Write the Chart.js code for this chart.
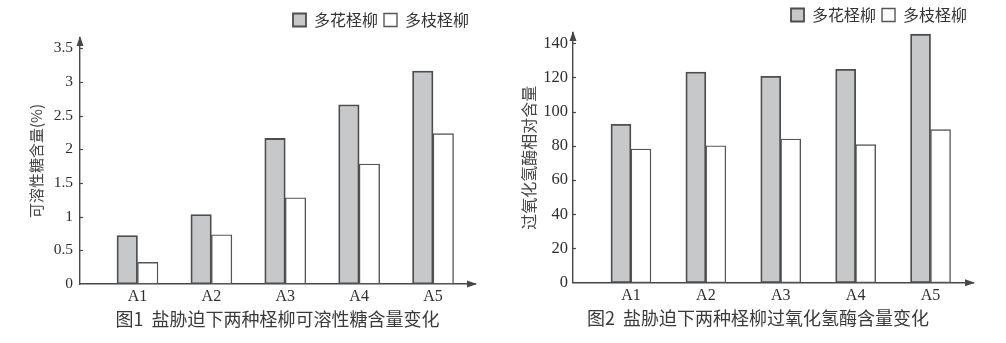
<!DOCTYPE html>
<html>
<head>
<meta charset="utf-8">
<script src="https://cdn.jsdelivr.net/npm/chart.js@4"></script>
<style>
  html, body { margin: 0; padding: 0; background: #ffffff; }
  body { width: 1006px; height: 343px; position: relative; overflow: hidden; }
  .box { position: absolute; top: 0; width: 503px; height: 343px; }
  #boxL { left: 0; }
  #boxR { left: 503px; top: -3px; height: 346px; }
</style>
</head>
<body>
<div id="boxL" class="box"><canvas id="c1" width="503" height="343"></canvas></div>
<div id="boxR" class="box"><canvas id="c2" width="503" height="346"></canvas></div>
<script>
// ---- data ----
const categories = ['A1', 'A2', 'A3', 'A4', 'A5'];
const seriesNames = ['多花柽柳', '多枝柽柳'];
const sugarDuohua = [0.72, 1.03, 2.16, 2.66, 3.16];
const sugarDuozhi = [0.32, 0.73, 1.28, 1.78, 2.23];
const catDuohua = [92.6, 123.2, 120.7, 124.8, 145.3];
const catDuozhi = [78.2, 80.1, 84.0, 80.7, 89.5];
const sugarTicks = [0, 0.5, 1, 1.5, 2, 2.5, 3, 3.5];
const catTicks = [0, 20, 40, 60, 80, 100, 120, 140];
const titleLeft = '图1  盐胁迫下两种柽柳可溶性糖含量变化';
const titleRight = '图2  盐胁迫下两种柽柳过氧化氢酶含量变化';
const yTitleLeft = '可溶性糖含量(%)';
const yTitleRight = '过氧化氢酶相对含量';

const CJK = '"Noto Sans CJK SC", "Noto Sans", sans-serif';
const SERIF = '"Liberation Serif", "DejaVu Serif", serif';
const AXIS = '#474747';

const axisDeco = {
  id: 'axisDeco',
  afterDraw(chart) {
    const ctx = chart.ctx;
    const {left, right, top, bottom} = chart.chartArea;
    const y = chart.scales.y;
    ctx.save();
    ctx.strokeStyle = AXIS;
    ctx.fillStyle = AXIS;
    ctx.lineWidth = 1.2;
    y.ticks.forEach(t => {
      if (t.value === 0) return;
      const py = Math.round(y.getPixelForValue(t.value)) + 0.5;
      ctx.beginPath();
      ctx.moveTo(left, py);
      ctx.lineTo(left + 3, py);
      ctx.stroke();
    });
    ctx.beginPath();
    ctx.moveTo(left, top - 2);
    ctx.lineTo(left - 3.5, top + 8);
    ctx.lineTo(left + 3.5, top + 8);
    ctx.closePath();
    ctx.fill();
    ctx.beginPath();
    ctx.moveTo(right + 2, bottom);
    ctx.lineTo(right - 8, bottom - 3.5);
    ctx.lineTo(right - 8, bottom + 3.5);
    ctx.closePath();
    ctx.fill();
    ctx.restore();
  }
};

function makeChart(canvasId, a, b, ticks, yMax, yTitle, title, cfg) {
  const toPts = arr => arr.map((v, i) => ({x: i, y: v}));
  return new Chart(document.getElementById(canvasId), {
    type: 'bar',
    data: {
      datasets: [
        {
          label: seriesNames[0],
          data: toPts(a),
          backgroundColor: '#c6c8ca',
          borderColor: '#4d4d4d',
          borderWidth: 1.8,
          borderSkipped: false,
          barThickness: cfg.barW
        },
        {
          label: seriesNames[1],
          data: toPts(b),
          backgroundColor: '#ffffff',
          borderColor: '#555555',
          borderWidth: 1.4,
          borderSkipped: false,
          barThickness: cfg.barW
        }
      ]
    },
    options: {
      responsive: false,
      animation: false,
      layout: { padding: { top: cfg.padTop, left: cfg.padLeft, right: cfg.padRight, bottom: 0 } },
      plugins: {
        legend: {
          position: 'top',
          align: 'end',
          labels: {
            boxWidth: 13,
            boxHeight: 13,
            padding: 6,
            color: '#333333',
            font: { family: CJK, size: 16 }
          }
        },
        title: {
          display: true,
          position: 'bottom',
          fullSize: cfg.titleFull,
          text: title,
          color: '#3a3a3a',
          font: { family: CJK, size: 18, weight: 'normal', lineHeight: 1.2 },
          padding: { top: 0, bottom: cfg.titleBottom }
        },
        tooltip: { enabled: false }
      },
      scales: {
        x: {
          type: 'linear',
          offset: false,
          min: cfg.xMin,
          max: cfg.xMax,
          grid: { display: false, drawTicks: false, offset: false },
          border: { display: true, color: AXIS, width: 1.4 },
          afterBuildTicks: s => { s.ticks = categories.map((c, i) => ({value: i})); },
          afterFit: s => { s.height = cfg.xH; },
          ticks: {
            autoSkip: false,
            maxRotation: 0,
            padding: 3,
            color: '#2e2e2e',
            font: { family: SERIF, size: 16 },
            callback: v => categories[v]
          }
        },
        y: {
          min: 0,
          max: yMax,
          grid: { display: false, drawTicks: false },
          border: { display: true, color: AXIS, width: 1.4 },
          afterBuildTicks: s => { s.ticks = ticks.map(v => ({value: v})); },
          afterFit: s => { s.width = cfg.yW; },
          ticks: {
            padding: cfg.yPad,
            color: '#2e2e2e',
            font: { family: SERIF, size: cfg.yTickSize },
            callback: v => String(v)
          },
          title: {
            display: true,
            text: yTitle,
            color: '#444444',
            font: { family: CJK, size: cfg.yTitleSize, lineHeight: 1.2 },
            padding: { top: cfg.yTitlePad, bottom: 0 }
          }
        }
      }
    },
    plugins: [axisDeco]
  });
}

makeChart('c1', sugarDuohua, sugarDuozhi, sugarTicks, 3.65, yTitleLeft, titleLeft, {
  barW: 20.5, padTop: 6, padLeft: 0, padRight: 28, titleBottom: 13, xH: 24.4, titleFull: false,
  xMin: -0.778, xMax: 4.568, yW: 80, yPad: 7, yTickSize: 15.5, yTitleSize: 15, yTitlePad: 27
});
makeChart('c2', catDuohua, catDuozhi, catTicks, 146, yTitleRight, titleRight, {
  barW: 20, padTop: 4, padLeft: 40, padRight: 33, titleBottom: 14, xH: 24.7, titleFull: true,
  xMin: -0.774, xMax: 4.567, yW: 30, yPad: 5, yTickSize: 16.5, yTitleSize: 16, yTitlePad: -23.6
});
</script>
</body>
</html>
